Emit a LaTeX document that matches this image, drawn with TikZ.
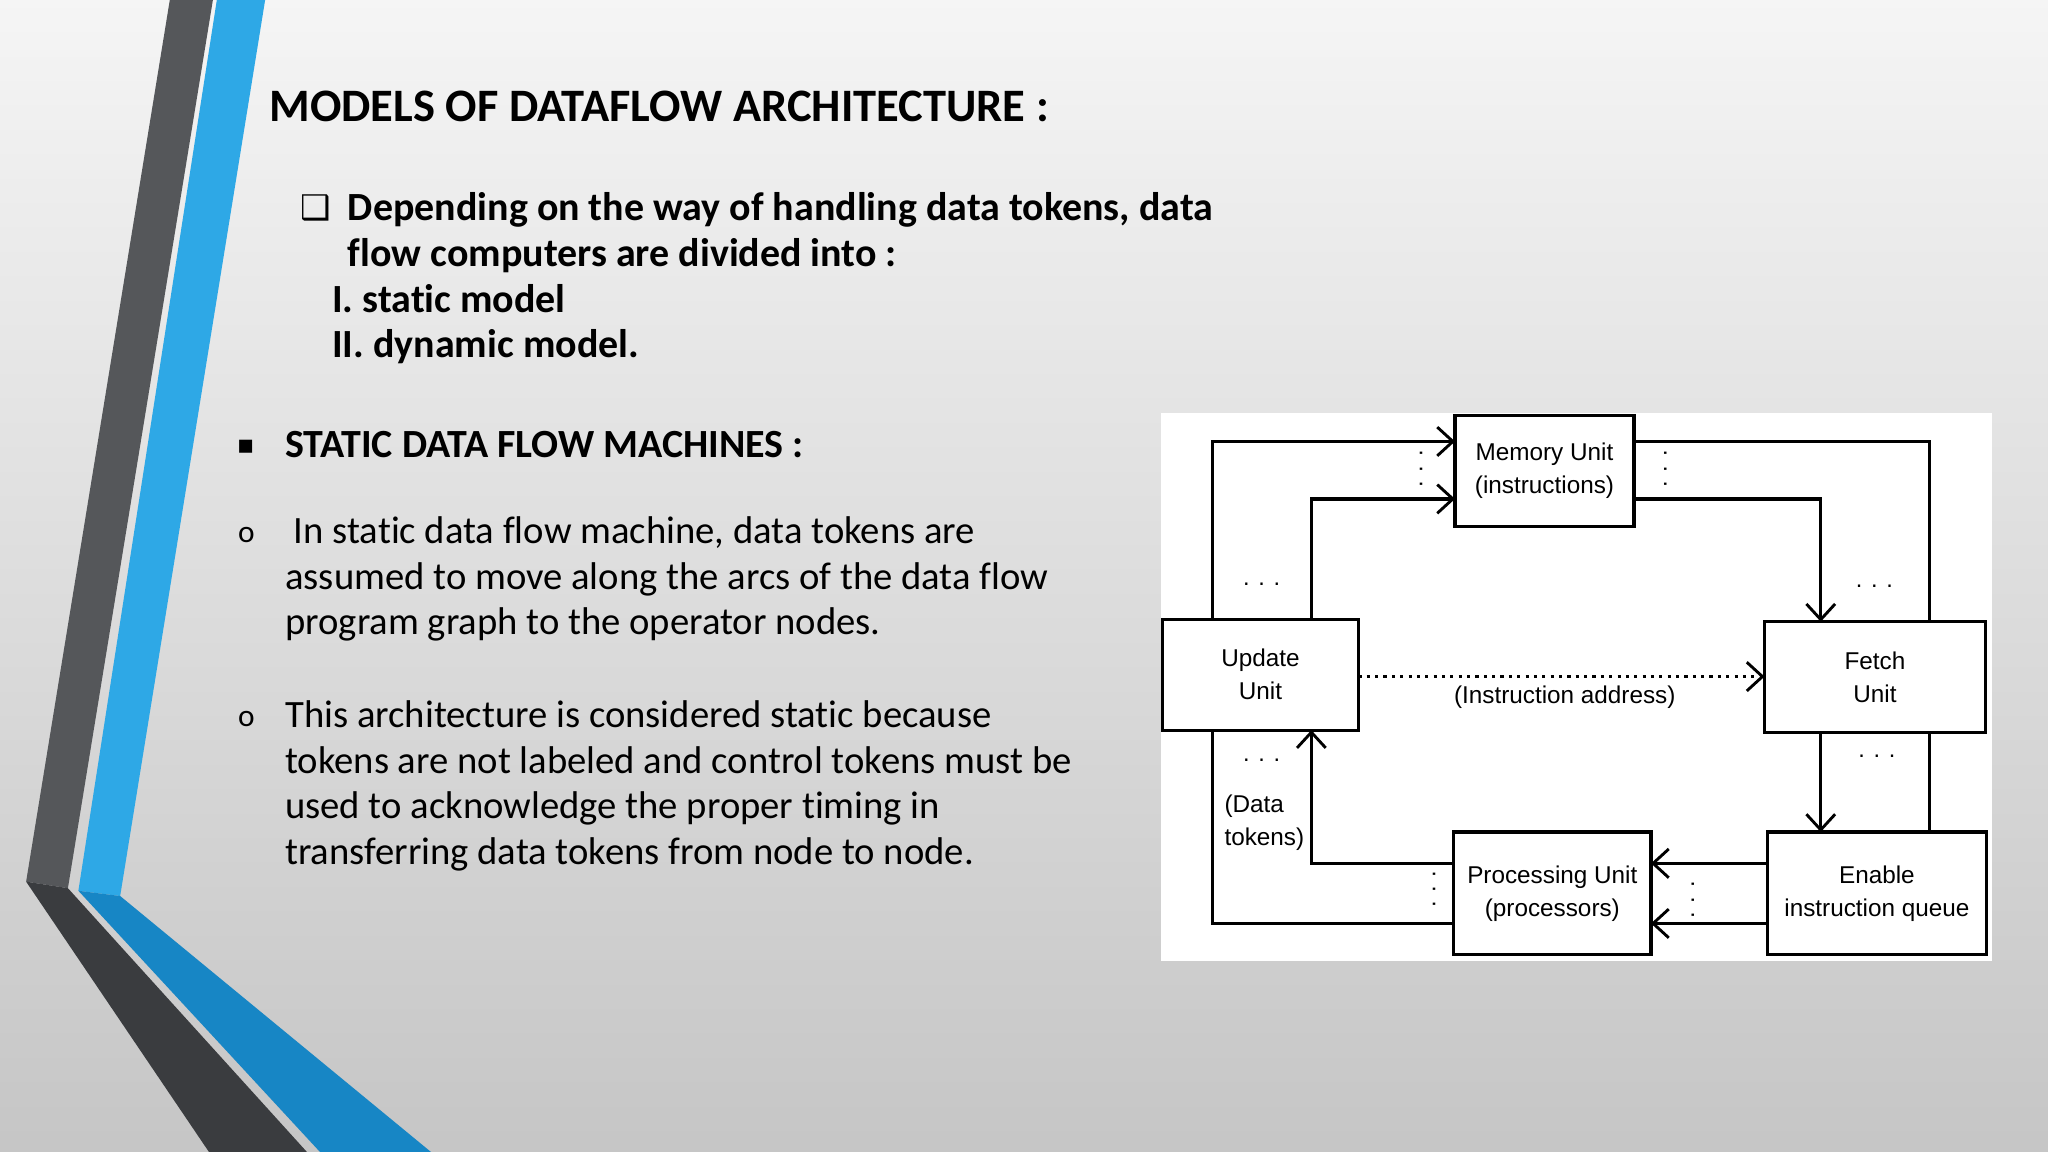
\documentclass[tikz,border=0pt]{standalone}
\usepackage{fontspec}
\setmainfont{Carlito}[Ligatures=NoCommon]
\newfontfamily\diafont{Liberation Sans}
\newfontfamily\symfont{DejaVu Sans}
\usetikzlibrary{arrows.meta}
\definecolor{darkstripe}{HTML}{55575A}
\definecolor{darkstripeB}{HTML}{3A3C3F}
\definecolor{bluestripe}{HTML}{2EA8E6}
\definecolor{bluestripeB}{HTML}{1786C5}
\begin{document}
\begin{tikzpicture}[x=0.5pt,y=-0.5pt,
  body/.style={anchor=base west,inner sep=0,font=\fontsize{14.8}{17}\selectfont},
  hd/.style={body,font=\fontsize{15.3}{17}\selectfont\bfseries},
  box/.style={draw,line width=1.2pt,inner sep=0,outer sep=0,align=center,
    font=\diafont\fontsize{9.3}{12.5}\selectfont},
  lbl/.style={inner sep=0,align=center,font=\diafont\fontsize{9.3}{12.5}\selectfont},
  dots/.style={inner sep=0,font=\diafont\fontsize{9}{10}\selectfont},
  wire/.style={line width=1.2pt},
  arr/.style={wire,-{Straight Barb[length=6pt,width=11pt,line width=1.1pt]}}]
% background
\shade[top color=white!92!gray,bottom color=gray!45] (0,0) rectangle (1568,882);
\useasboundingbox (0,0) rectangle (1568,882);
% left stripes
\fill[darkstripe] (130,0) -- (163,0) -- (52,680) -- (20,675) -- cycle;
\fill[bluestripe] (166,0) -- (203,0) -- (92,686) -- (60,682) -- cycle;
\fill[darkstripeB] (20,675) -- (52,680) -- (235,882) -- (160,882) -- cycle;
\fill[bluestripeB] (60,682) -- (92,686) -- (330,882) -- (245,882) -- cycle;
% text
\node[hd,font=\fontsize{17.8}{20}\selectfont\bfseries] (title) at (206,93) {MODELS OF DATAFLOW ARCHITECTURE :};
\node[hd,font=\symfont\fontsize{13}{15}\selectfont] (chk) at (230,168) {❑};
\node[hd] (l1) at (266,169) {Depending on the way of handling data tokens, data};
\node[hd] (l2) at (266,204) {flow computers are divided into :};
\node[hd] (l3) at (254,239) {I. static model};
\node[hd] (l4) at (254,274) {II. dynamic model.};
\node[hd,font=\symfont\fontsize{10}{12}\selectfont] (sq) at (181,347) {▪};
\node[hd] (s1) at (218,350) {STATIC DATA FLOW MACHINES :};
\node[body,font=\fontsize{12}{14}\selectfont] (o1) at (182,415) {o};
\node[body] (p1) at (218,416) {\ In static data flow machine, data tokens are};
\node[body] (p2) at (218,451) {assumed to move along the arcs of the data flow};
\node[body] (p3) at (218,486) {program graph to the operator nodes.};
\node[body,font=\fontsize{12}{14}\selectfont] (o2) at (182,556) {o};
\node[body] (q1) at (218,557) {This architecture is considered static because};
\node[body] (q2) at (218,592) {tokens are not labeled and control tokens must be};
\node[body] (q3) at (218,627) {used to acknowledge the proper timing in};
\node[body] (q4) at (218,662) {transferring data tokens from node to node.};
% diagram panel
\fill[white] (889,316) rectangle (1525,736);
\node[box,minimum width=68.5pt,minimum height=42.5pt] (mem) at (1182.5,360.5) {Memory Unit\\(instructions)};
\node[box,minimum width=75pt,minimum height=42.5pt] (upd) at (965,516.5) {Update\\Unit};
\node[box,minimum width=84.5pt,minimum height=42.5pt] (fet) at (1435.5,518.5) {Fetch\\Unit};
\node[box,minimum width=75.5pt,minimum height=47pt] (prc) at (1188.5,684) {Processing Unit\\(processors)};
\node[box,minimum width=84pt,minimum height=47pt] (enb) at (1437,684) {Enable\\instruction queue};
\coordinate (xL) at (928,0);
\coordinate (xI) at (1004,0);
\coordinate (xR) at (1477,0);
\coordinate (xF) at (1394,0);
\coordinate (yA) at (0,338);
\coordinate (yB) at (0,382);
\coordinate (yC) at (0,661);
\coordinate (yD) at (0,707);
\coordinate (yM) at (0,518);
\draw[arr] (upd.north -| xL) |- (mem.west |- yA);
\draw[arr] (upd.north -| xI) |- (mem.west |- yB);
\draw[wire] (mem.east |- yA) -| (fet.north -| xR);
\draw[arr] (mem.east |- yB) -| (fet.north -| xF);
\draw[arr] (fet.south -| xF) -- (enb.north -| xF);
\draw[wire] (fet.south -| xR) -- (enb.north -| xR);
\draw[arr] (enb.west |- yC) -- (prc.east |- yC);
\draw[arr] (enb.west |- yD) -- (prc.east |- yD);
\draw[arr] (prc.west |- yC) -| (upd.south -| xI);
\draw[wire] (prc.west |- yD) -| (upd.south -| xL);
\draw[arr,dotted] (upd.east |- yM) -- (fet.west |- yM);
\node[lbl] (ia) at (1198,534) {(Instruction address)};
\node[lbl,align=left] (dt) at (968,630) {(Data\\tokens)};
\node[dots] (d1) at (966,447) {. . .};
\node[dots] (d2) at (1435,449) {. . .};
\node[dots] (d3) at (966,582) {. . .};
\node[dots] (d4) at (1437,579) {. . .};
\node[dots,rotate=90] (d5) at (1088,359) {. . .};
\node[dots,rotate=90] (d6) at (1275,359) {. . .};
\node[dots,rotate=90] (d7) at (1098,681) {. . .};
\node[dots,rotate=90] (d8) at (1296,689) {. . .};
\end{tikzpicture}
\end{document}
